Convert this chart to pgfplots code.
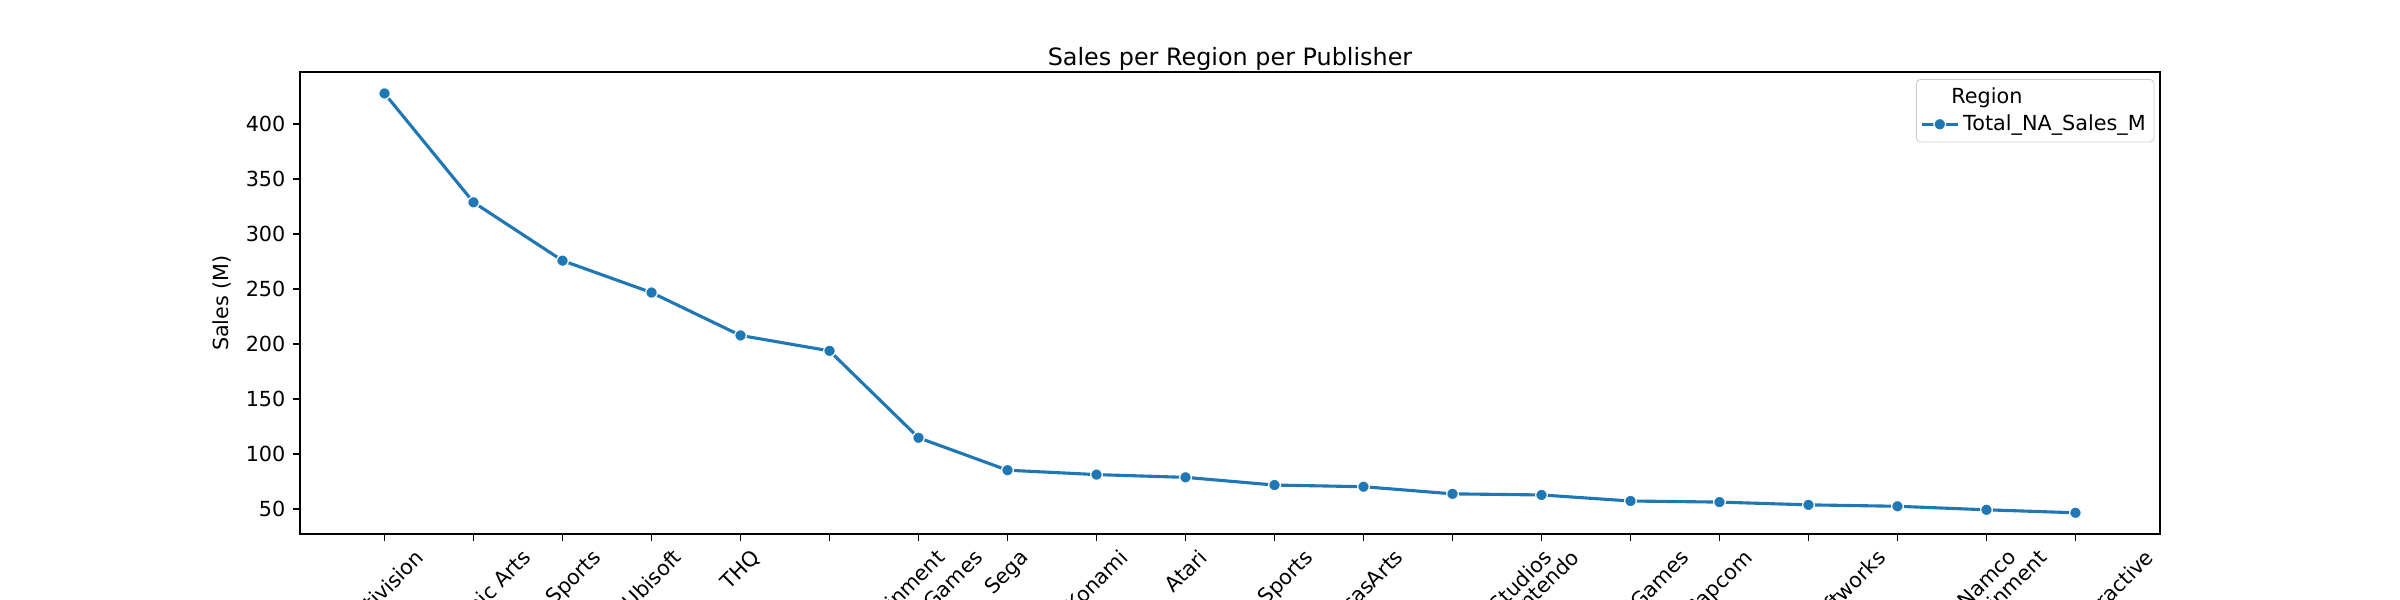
\documentclass[border=0pt]{standalone}
\usepackage{pgfplots}
\pgfplotsset{compat=1.18}
\usepackage{graphicx}
\usepackage{fontspec}
\setmainfont{DejaVu Sans}
\begin{document}
\begin{tikzpicture}
\begin{axis}[
  at={(0,0)}, anchor=south west, scale only axis,
  width=12.4in, height=3.08in,
  xmin=-0.95, xmax=19.95, ymin=27.5, ymax=447.5,
  font=\fontsize{10}{12}\selectfont,
  /pgf/number format/assume math mode=true,
  axis line style={line width=0.8pt},
  tick align=outside, major tick length=3.5pt,
  tick style={line width=0.8pt, black},
  xtick pos=bottom, ytick pos=left,
  xtick={0,...,19},
  ytick={50,100,...,400},
  xticklabel style={anchor=north, inner sep=0pt, yshift=-3pt},
  xticklabels={
   {\rotatebox{45}{Activision}},
   {\rotatebox{45}{Electronic Arts}},
   {\rotatebox{45}{EA Sports}},
   {\rotatebox{45}{Ubisoft}},
   {\rotatebox{45}{THQ}},
   {\rotatebox{45}{Sony Computer Entertainment}},
   {\rotatebox{45}{Rockstar Games}},
   {\rotatebox{45}{Sega}},
   {\rotatebox{45}{Konami}},
   {\rotatebox{45}{Atari}},
   {\rotatebox{45}{2K Sports}},
   {\rotatebox{45}{LucasArts}},
   {\rotatebox{45}{Disney Interactive Studios}},
   {\rotatebox{45}{Nintendo}},
   {\rotatebox{45}{Midway Games}},
   {\rotatebox{45}{Capcom}},
   {\rotatebox{45}{Bethesda Softworks}},
   {\rotatebox{45}{Warner Bros. Interactive Entertainment}},
   {\rotatebox{45}{Namco}},
   {\rotatebox{45}{Take-Two Interactive}}},
  ylabel={Sales (M)},
  title={Sales per Region per Publisher},
  title style={yshift=-9pt, font=\fontsize{11.5}{14}\selectfont},
  legend style={at={(0.997,0.985)}, anchor=north east, font=\fontsize{10}{12}\selectfont, draw=black!20, rounded corners=2pt, inner sep=2pt},
  legend cell align=left,
]
\addlegendimage{empty legend}
\addlegendentry{\hspace{-0.9cm}\makebox[2.6cm][c]{Region}}
\addplot[color={rgb,255:red,31;green,119;blue,180}, line width=1.5pt, mark=*, mark size=2.8pt, mark options={draw=white, line width=0.6pt, fill={rgb,255:red,31;green,119;blue,180}}]
 coordinates {(0,428) (1,329) (2,276) (3,247) (4,208) (5,194) (6,115) (7,85.5) (8,81.5) (9,79) (10,72) (11,70.5) (12,64) (13,63) (14,57.5) (15,56.5) (16,54) (17,52.7) (18,49.5) (19,46.8)};
\addlegendentry{Total\_NA\_Sales\_M}
\end{axis}
\pgfresetboundingbox
\useasboundingbox (-2in,-0.44in) rectangle (14in,3.56in);
\end{tikzpicture}
\end{document}
